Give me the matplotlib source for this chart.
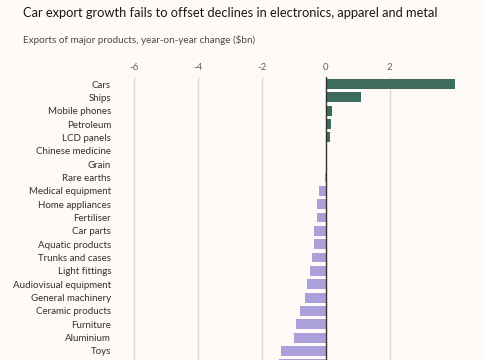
import matplotlib
matplotlib.use("Agg")
import matplotlib.pyplot as plt

plt.rcParams['font.family'] = ['Lato', 'DejaVu Sans']

products = ["Cars", "Ships", "Mobile phones", "Petroleum", "LCD panels",
            "Chinese medicine", "Grain", "Rare earths", "Medical equipment",
            "Home appliances", "Fertiliser", "Car parts", "Aquatic products",
            "Trunks and cases", "Light fittings", "Audiovisual equipment",
            "General machinery", "Ceramic products", "Furniture", "Aluminium",
            "Toys", "Steel products"]
change_bn = [4.03, 1.09, 0.20, 0.16, 0.14, 0.01, 0.0, -0.02, -0.20,
             -0.28, -0.29, -0.36, -0.38, -0.42, -0.50, -0.58, -0.65,
             -0.81, -0.92, -0.99, -1.41, -1.47]
xticks = [-6, -4, -2, 0, 2]

bg = "#fdfaf7"
green = "#3d6b5d"
purple = "#aba0d9"

fig = plt.figure(figsize=(4.85, 3.6), dpi=100, facecolor=bg)
ax = fig.add_axes([0.2433, -0.0306, 0.7052, 0.8158])
ax.set_facecolor(bg)

# green for growth, purple for declines
colors = [green if v > 0 else purple for v in change_bn]
ax.barh(range(len(products)), change_bn, height=0.74, color=colors, zorder=3)

ax.set_xlim(-6.5, 4.2)
ax.set_ylim(len(products) - 0.5, -0.5)

for t in xticks:
    if t == 0:
        ax.axvline(0, color="#33302e", lw=1.0, zorder=4)
    else:
        ax.axvline(t, color="#dedad6", lw=1.0, zorder=1)

ax.set_xticks(xticks)
ax.set_xticklabels([str(t) for t in xticks])
ax.xaxis.tick_top()
ax.tick_params(axis="x", length=0, pad=4, labelsize=7, labelcolor="#66605c")
ax.set_yticks(range(len(products)))
ax.set_yticklabels(products)
ax.tick_params(axis="y", length=0, pad=5, labelsize=7, labelcolor="#33302e")
for s in ax.spines.values():
    s.set_visible(False)

fig.text(0.047, 0.965, "Car export growth fails to offset declines in electronics, apparel and metal",
         fontsize=9.3, color="#1a1817", va="center", ha="left")
fig.text(0.047, 0.89, "Exports of major products, year-on-year change ($bn)",
         fontsize=7.1, color="#4d4845", va="center", ha="left")

plt.savefig("out.png", dpi=100, facecolor=bg)
